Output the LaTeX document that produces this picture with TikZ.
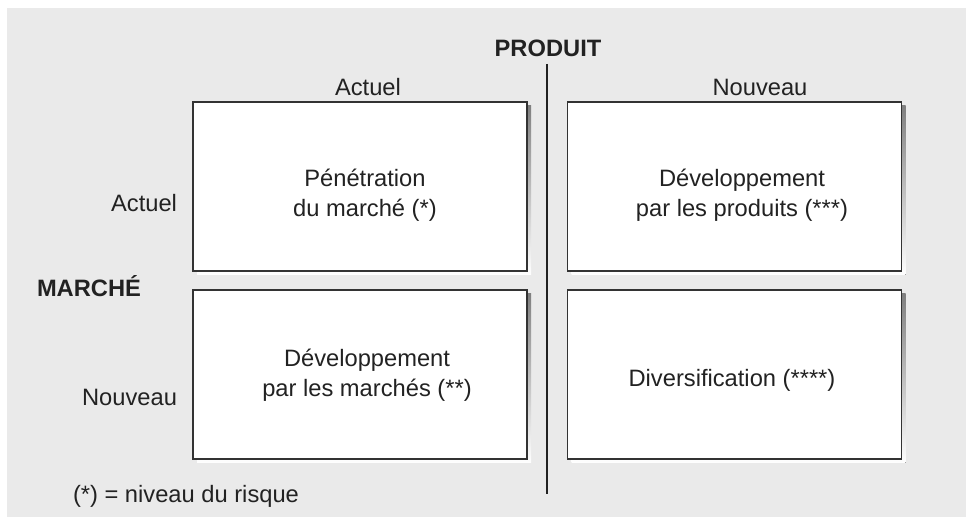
\documentclass[tikz,border=0pt]{standalone}
\usepackage{fontspec}
\setmainfont{Liberation Sans}
\definecolor{bggrey}{HTML}{EAEAEA}
\definecolor{txt}{HTML}{222222}
\definecolor{edge}{HTML}{333333}
\definecolor{shade}{HTML}{999999}
\begin{document}
\begin{tikzpicture}[x=1pt,y=-1pt,
  every node/.style={font=\fontsize{23.7}{30}\selectfont, text=txt, inner sep=0pt, outer sep=0pt},
  cell/.style={draw=edge, line width=1.3pt, fill=white, minimum width=334pt, minimum height=169pt},
  lbl/.style={anchor=base, align=center},
  hdr/.style={anchor=base, font=\fontsize{23.7}{30}\selectfont\bfseries}
]
\useasboundingbox (0,0) rectangle (967,518);
\fill[white] (0,0) rectangle (967,518);
\fill[bggrey] (7,8) rectangle (966,517);

% shadows
\foreach \cx/\cy in {360/186.5, 734.5/186.5, 360/374.5, 734.5/374.5}{
  \fill[shade] (\cx-167+4,\cy-84.5+4) rectangle (\cx+167+4,\cy+84.5+4);
}
% cells
\node[cell] (tl) at (360,186.5) {};
\node[cell] (tr) at (734.5,186.5) {};
\node[cell] (bl) at (360,374.5) {};
\node[cell] (br) at (734.5,374.5) {};

% axis line
\coordinate (ltop) at (547,64);
\coordinate (lbot) at (547,494);
\draw[line width=1.5pt, color=txt] (ltop) -- (lbot);

% headers
\node[hdr] (produit) at (548,56.5) {PRODUIT};
\node[hdr, anchor=base west] (marche) at (37,297) {MARCHÉ};
\node[lbl] (pactuel) at (368,96) {Actuel};
\node[lbl] (pnouveau) at (760,96) {Nouveau};
\node[anchor=base east] (mactuel) at (177,211.5) {Actuel};
\node[anchor=base east] (mnouveau) at (177,406) {Nouveau};

% cell texts
\node[lbl] (ttl) at (365,217) {Pénétration\\du marché (*)};
\node[lbl] (ttr) at (742,217) {Développement\\par les produits (***)};
\node[lbl] (tbl) at (367,397) {Développement\\par les marchés (**)};
\node[lbl] (tbr) at (732,387) {Diversification (****)};

% footnote
\node[anchor=base west] (note) at (73,503) {(*) = niveau du risque};
\end{tikzpicture}
\end{document}
